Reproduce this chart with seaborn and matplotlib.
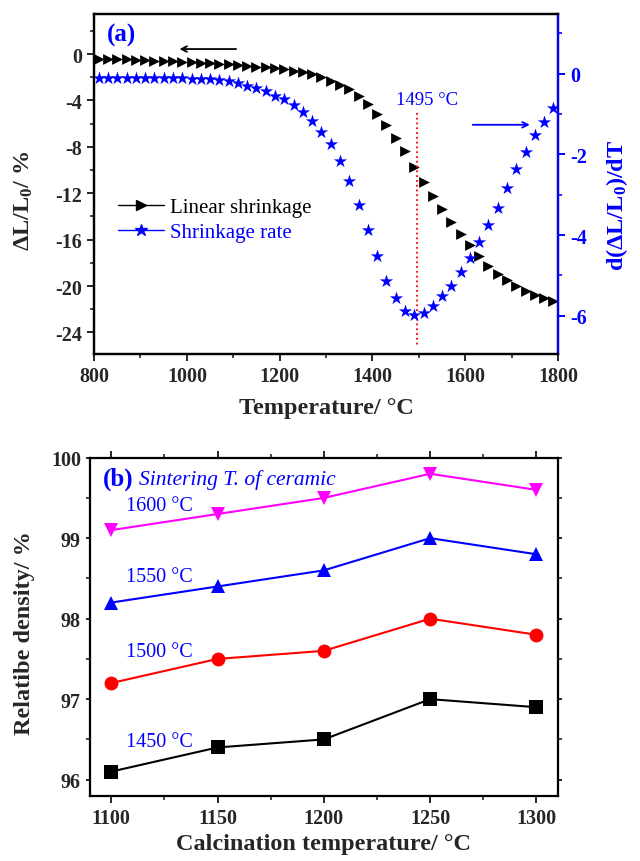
import numpy as np
import pandas as pd
import seaborn as sns
import matplotlib.pyplot as plt
from matplotlib.lines import Line2D
from matplotlib.ticker import MultipleLocator

# ---- data (a): dilatometry ----
temp = [810, 830, 850, 870, 890, 910, 930, 950, 970, 990,
        1010, 1030, 1050, 1070, 1090, 1110, 1130, 1150, 1170, 1190,
        1210, 1230, 1250, 1270, 1290, 1310, 1330, 1350, 1370, 1390,
        1410, 1430, 1450, 1470, 1490, 1510, 1530, 1550, 1570, 1590,
        1610, 1630, 1650, 1670, 1690, 1710, 1730, 1750, 1770, 1790]
shrinkage = [-0.40, -0.42, -0.45, -0.47, -0.50, -0.53, -0.56, -0.60, -0.63, -0.67,
             -0.71, -0.75, -0.80, -0.85, -0.90, -0.96, -1.02, -1.09, -1.16, -1.24,
             -1.33, -1.43, -1.55, -1.70, -1.98, -2.30, -2.67, -3.00, -3.60, -4.35,
             -5.15, -6.10, -7.20, -8.40, -9.75, -11.0, -12.2, -13.4, -14.5, -15.5,
             -16.5, -17.4, -18.25, -18.95, -19.5, -20.0, -20.4, -20.75, -21.0, -21.25]
rate = [-0.10, -0.10, -0.10, -0.10, -0.10, -0.10, -0.10, -0.11, -0.11, -0.11,
        -0.12, -0.12, -0.13, -0.15, -0.19, -0.23, -0.31, -0.35, -0.44, -0.54,
        -0.62, -0.77, -0.95, -1.16, -1.44, -1.74, -2.17, -2.66, -3.25, -3.87,
        -4.53, -5.14, -5.56, -5.87, -5.97, -5.93, -5.76, -5.51, -5.27, -4.92,
        -4.57, -4.18, -3.75, -3.32, -2.82, -2.37, -1.93, -1.52, -1.19, -0.85]
peak_T = 1495

# ---- data (b): relative density ----
calc_T = [1100, 1150, 1200, 1250, 1300]
sinter_labels = ['1450 °C', '1500 °C', '1550 °C', '1600 °C']
dens_1450 = [96.1, 96.4, 96.5, 97.0, 96.9]
dens_1500 = [97.2, 97.5, 97.6, 98.0, 97.8]
dens_1550 = [98.2, 98.4, 98.6, 99.0, 98.8]
dens_1600 = [99.1, 99.3, 99.5, 99.8, 99.6]

sns.set_style('ticks')
plt.rcParams['font.family'] = ['Liberation Serif', 'DejaVu Serif']
plt.rcParams['axes.unicode_minus'] = False
plt.rcParams['mathtext.fontset'] = 'custom'
plt.rcParams['mathtext.bf'] = 'Liberation Serif:bold'
plt.rcParams['mathtext.rm'] = 'Liberation Serif:bold'
plt.rcParams['mathtext.default'] = 'bf'

fig = plt.figure(figsize=(6.4, 8.62), dpi=100)
ax = fig.add_axes([0.147, 0.588, 0.725, 0.3946])
ax2 = ax.twinx()

tick_fs = 14.5
lab_fs = 17.5

df_a = pd.DataFrame({'T': temp, 'shrink': shrinkage, 'rate': rate})
sns.scatterplot(data=df_a, x='T', y='shrink', marker='>', color='black', s=60,
                linewidth=0, ax=ax)
sns.scatterplot(data=df_a, x='T', y='rate', marker='*', color='blue', s=100,
                linewidth=0, ax=ax2)

ax.set_xlim(800, 1800)
ax.set_ylim(-25.87, 3.45)
ax2.set_ylim(-6.95, 1.48)
ax.xaxis.set_major_locator(MultipleLocator(200))
ax.xaxis.set_minor_locator(MultipleLocator(100))
ax.yaxis.set_major_locator(MultipleLocator(4))
ax.yaxis.set_minor_locator(MultipleLocator(2))
ax2.yaxis.set_major_locator(MultipleLocator(2))
ax2.yaxis.set_minor_locator(MultipleLocator(1))

ax.plot([peak_T, peak_T], [-5.1, -25.2], ls=':', color='red', lw=1.3)
ax.text(1518, -3.9, f'{peak_T} °C', color='blue', fontsize=13.5,
        ha='center', va='center')
ax.annotate('', xy=(978, 0.43), xytext=(1112, 0.43),
            arrowprops=dict(arrowstyle='->', color='black', lw=1.3))
ax.annotate('', xy=(1745, -6.1), xytext=(1610, -6.1),
            arrowprops=dict(arrowstyle='->', color='blue', lw=1.3))
ax.text(828, 1.72, '(a)', color='blue', fontsize=18, fontweight='bold',
        ha='left', va='center')

handles = [Line2D([], [], color='black', marker='>', markersize=7, lw=1),
           Line2D([], [], color='blue', marker='*', markersize=9, lw=1)]
ax.legend(handles, ['Linear shrinkage', 'Shrinkage rate'], loc='center left',
          bbox_to_anchor=(0.012, 0.395), frameon=False, fontsize=15,
          handlelength=2.2, handletextpad=0.3, labelspacing=0.25,
          labelcolor=['black', 'blue'])

ax.set_xlabel('Temperature/ °C', fontsize=lab_fs, fontweight='bold')
ax.set_ylabel('ΔL/L$_0$/ %', fontsize=lab_fs, fontweight='bold')
ax2.set_ylabel('d(ΔL/L$_0$)/dT', fontsize=lab_fs, fontweight='bold', color='blue')
ax.xaxis.set_label_coords(0.5, -0.125)
ax.yaxis.set_label_coords(-0.128, 0.455)
ax2.yaxis.set_label_coords(1.1, 0.44)

for a in (ax, ax2):
    for sp in a.spines.values():
        sp.set_linewidth(1.6)
        sp.set_color('black')
ax2.spines['right'].set_color('blue')
ax.tick_params(axis='both', which='major', length=5, width=1.4,
               labelsize=tick_fs)
ax.tick_params(axis='both', which='minor', length=3, width=1.2)
ax2.tick_params(axis='y', which='major', length=5, width=1.4, colors='blue',
                labelsize=tick_fs)
ax2.tick_params(axis='y', which='minor', length=3, width=1.2, colors='blue')
for a in (ax, ax2):
    for lbl in a.get_xticklabels() + a.get_yticklabels():
        lbl.set_fontweight('bold')

# ---- panel (b) ----
bx = fig.add_axes([0.1406, 0.0757, 0.7308, 0.3922])
df_b = pd.DataFrame({
    'calc': calc_T * 4,
    'dens': dens_1450 + dens_1500 + dens_1550 + dens_1600,
    'sinter': sum([[s] * len(calc_T) for s in sinter_labels], []),
})
palette = dict(zip(sinter_labels, ['black', 'red', 'blue', 'magenta']))
markers = dict(zip(sinter_labels, ['s', 'o', '^', 'v']))
sns.lineplot(data=df_b, x='calc', y='dens', hue='sinter', style='sinter',
             palette=palette, markers=markers, dashes=False, markersize=10,
             markeredgewidth=0, lw=1.5, legend=False, ax=bx)

bx.set_xlim(1090, 1310)
bx.set_ylim(95.8, 100)
bx.xaxis.set_major_locator(MultipleLocator(50))
bx.xaxis.set_minor_locator(MultipleLocator(25))
bx.yaxis.set_major_locator(MultipleLocator(1))
bx.yaxis.set_minor_locator(MultipleLocator(0.5))

label_y = [96.47, 97.59, 98.52, 99.40]
for s, y in zip(sinter_labels, label_y):
    bx.text(1107, y, s, color='blue', fontsize=14.5, ha='left', va='center')
bx.text(1096, 99.74, '(b)', color='blue', fontsize=18, fontweight='bold',
        ha='left', va='center')
bx.text(1113, 99.74, 'Sintering T. of ceramic', color='blue', fontsize=15.5,
        style='italic', ha='left', va='center')

bx.set_xlabel('Calcination temperature/ °C', fontsize=lab_fs, fontweight='bold')
bx.set_ylabel('Relatibe density/ %', fontsize=lab_fs, fontweight='bold')
bx.xaxis.set_label_coords(0.5, -0.11)
bx.yaxis.set_label_coords(-0.118, 0.484)
for sp in bx.spines.values():
    sp.set_visible(True)
    sp.set_linewidth(1.6)
    sp.set_color('black')
bx.tick_params(axis='both', which='major', length=5, width=1.4,
               labelsize=tick_fs)
bx.tick_params(axis='both', which='minor', length=3, width=1.2)
bx.tick_params(axis='y', which='both', right=True, length=3)
bx.tick_params(axis='x', which='both', top=True)
for lbl in bx.get_xticklabels() + bx.get_yticklabels():
    lbl.set_fontweight('bold')

ax.spines['top'].set_visible(True)
ax2.spines['top'].set_visible(True)

fig.savefig('out.png', dpi=100)
